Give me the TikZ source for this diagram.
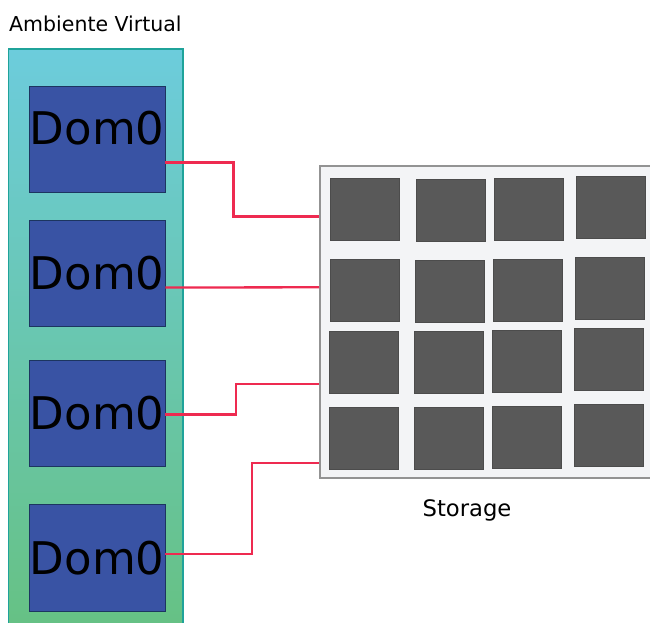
\documentclass[tikz,border=0pt]{standalone}
\usepackage{fontspec}
\setmainfont{DejaVu Sans}
\definecolor{vmtop}{HTML}{6CCCDC}
\definecolor{vmbot}{HTML}{66C182}
\definecolor{vmedge}{HTML}{1FA39A}
\definecolor{domfill}{HTML}{3953A4}
\definecolor{domedge}{HTML}{1C3560}
\definecolor{diskfill}{HTML}{595959}
\definecolor{storfill}{HTML}{F3F4F6}
\definecolor{linkred}{HTML}{EE2A50}
\begin{document}
\begin{tikzpicture}[x=1pt,y=-1pt,
    dom/.style={draw=domedge,fill=domfill,minimum width=136pt,minimum height=106pt,inner sep=0pt,anchor=north west,font=\fontsize{45}{45}\selectfont},
    disk/.style={draw=diskfill!85!black,fill=diskfill,minimum width=68.5pt,minimum height=62pt,inner sep=0pt,anchor=north west},
    link/.style={draw=linkred,line width=2.3pt}]
    \useasboundingbox (0,0) rectangle (650,623);
    \draw[vmedge,line width=1.6pt,top color=vmtop,bottom color=vmbot] (8.5,49) rectangle (183,640);
    \node[anchor=base west,inner sep=0pt,font=\fontsize{20.5}{24}\selectfont] (title) at (9,31.5) {Ambiente Virtual};
    \node[dom,text depth=23pt] (dom1) at (29,86) {Dom0};
    \node[dom] (dom2) at (29,220) {Dom0};
    \node[dom] (dom3) at (29,360) {Dom0};
    \node[dom,minimum height=107pt] (dom4) at (29,504) {Dom0};
    \node[draw=gray!85,line width=1.5pt,fill=storfill,minimum width=345pt,minimum height=312pt,inner sep=0pt,anchor=north west] (storage) at (319,165) {};
    \foreach \x/\y [count=\i] in {330/178,416/179,494/178,576/176,330/259,415/260,493/259,575/257,329/331,414/331,492/330,574/328,329/407,414/407,492/406,574/404}
        \node[disk] (disk\i) at (\x,\y) {};
    \node[anchor=base,inner sep=0pt,font=\fontsize{22.7}{26}\selectfont] (storagelabel) at (467,516.5) {Storage};
    \coordinate (in1) at (storage.west |- 0,216.5);
    \coordinate (in2) at (storage.west |- 0,287.3);
    \coordinate (in3) at (storage.west |- 0,384.3);
    \coordinate (in4) at (storage.west |- 0,463.3);
    \draw[link] ([yshift=-23.3pt]dom1.east) -- ++(68,0) |- (in1);
    \draw[link] ([yshift=-14.3pt]dom2.east) -- (in2);
    \draw[link] ([yshift=-1.3pt]dom3.east) -- ++(70.7,0) |- (in3);
    \draw[link] ([yshift=3.5pt]dom4.east) -- ++(86.7,0) |- (in4);
\end{tikzpicture}
\end{document}
